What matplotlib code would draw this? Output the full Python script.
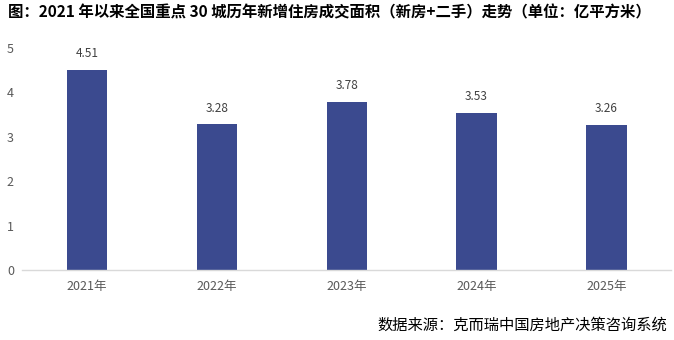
import matplotlib.pyplot as plt

plt.rcParams['font.family'] = ['Noto Sans CJK SC', 'DejaVu Sans']

# === DONNÉES ===
years = ["2021年", "2022年", "2023年", "2024年", "2025年"]
areas = [4.51, 3.28, 3.78, 3.53, 3.26]
yticks = [0, 1, 2, 3, 4, 5]

title = "图：2021 年以来全国重点 30 城历年新增住房成交面积（新房+二手）走势（单位：亿平方米）"
source = "数据来源：克而瑞中国房地产决策咨询系统"

# === GRAPHIQUE ===
fig = plt.figure(figsize=(6.74, 3.40), dpi=100)
ax = fig.add_axes([0.033, 0.206, 0.963, 0.653])

x = range(len(years))
bars = ax.bar(x, areas, width=0.31, color="#3B4A8F", zorder=2)
for xi, v in zip(x, areas):
    ax.text(xi, v + 0.22, f"{v:.2f}", ha="center", va="bottom",
            fontsize=8.5, color="#404040")

ax.set_xlim(-0.5, len(years) - 0.5)
ax.set_ylim(0, 5)
ax.set_yticks(yticks)
ax.set_xticks(list(x))
ax.set_xticklabels(years)
ax.tick_params(axis="both", length=0, labelsize=9, colors="#595959")
ax.tick_params(axis="x", pad=7)
ax.tick_params(axis="y", pad=6)

for s in ["top", "right", "left"]:
    ax.spines[s].set_visible(False)
ax.spines["bottom"].set_color("#D9D9D9")
ax.spines["bottom"].set_linewidth(1.0)

fig.text(0.012, 0.962, title, ha="left", va="center", fontsize=11.1,
         fontweight="bold", color="black")
fig.text(0.99, 0.044, source, ha="right", va="center", fontsize=11,
         color="black")

plt.savefig("out.png", dpi=100)
